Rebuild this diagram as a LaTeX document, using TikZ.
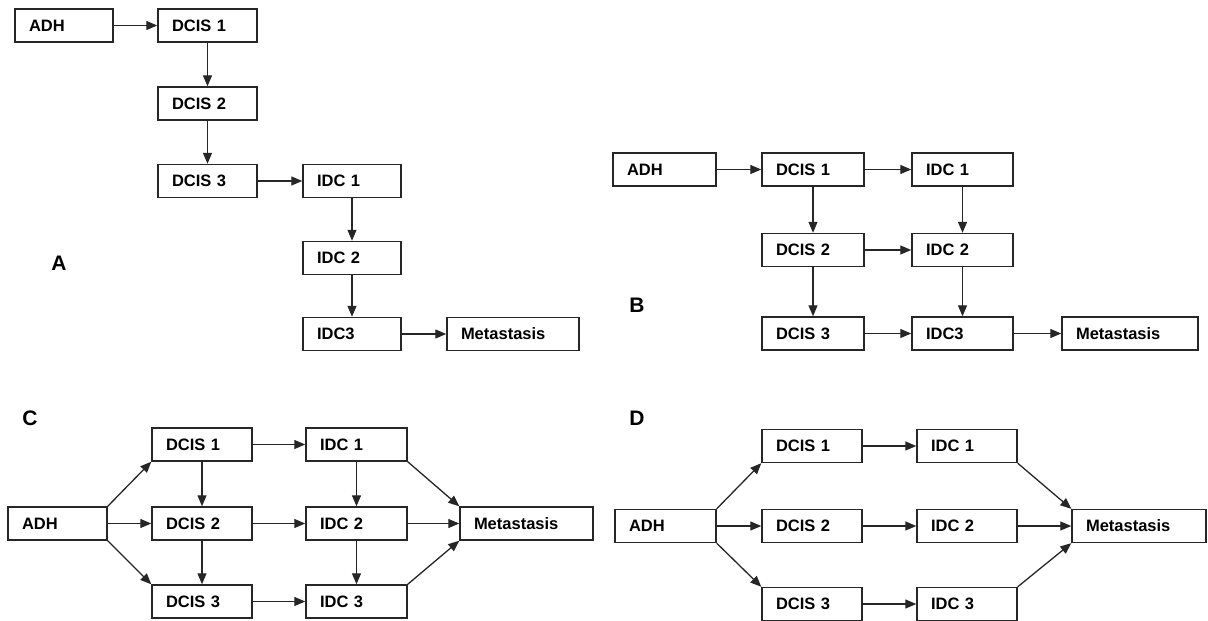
\documentclass[tikz,border=0pt]{standalone}
\usepackage{fontspec}
\setmainfont{Liberation Sans}
\usetikzlibrary{arrows.meta}
\tikzset{
  bx/.style={draw=black!85, line width=1.4pt, fill=white, minimum height=33pt,
    inner xsep=14pt, inner ysep=0pt, align=left,
    font=\fontsize{16.5}{19}\selectfont\bfseries},
  wm/.style={text width=#1},
  arr/.style={draw=black!85, line width=1.3pt, -{Triangle[length=11pt,width=9pt]}},
  lab/.style={font=\fontsize{21}{24}\selectfont\bfseries}
}
\begin{document}
\begin{tikzpicture}[x=1pt,y=-1pt]
\useasboundingbox (0,0) rectangle (1208,621);
% ---------- A ----------
\node[bx, wm=70pt] (aADH) at (64,25.5) {ADH};
\node[bx, wm=71pt] (aD1) at (207.5,25.5) {DCIS 1};
\node[bx, wm=71pt] (aD2) at (207.5,103.5) {DCIS 2};
\node[bx, wm=71pt] (aD3) at (207.5,181) {DCIS 3};
\node[bx, wm=70pt] (aI1) at (352,181) {IDC 1};
\node[bx, wm=70pt] (aI2) at (352,258) {IDC 2};
\node[bx, wm=70pt] (aI3) at (352,334) {IDC3};
\node[bx, wm=104pt] (aM) at (513,334) {Metastasis};
\node[lab] (aL) at (59,263) {A};
\draw[arr] (aADH) -- (aD1);
\draw[arr] (aD1) -- (aD2);
\draw[arr] (aD2) -- (aD3);
\draw[arr] (aD3) -- (aI1);
\draw[arr] (aI1) -- (aI2);
\draw[arr] (aI2) -- (aI3);
\draw[arr] (aI3) -- (aM);
% ---------- B ----------
\node[bx, wm=75pt] (bADH) at (664.5,169.5) {ADH};
\node[bx, wm=74pt] (bD1) at (813,169.5) {DCIS 1};
\node[bx, wm=74pt] (bD2) at (813,250) {DCIS 2};
\node[bx, wm=74pt] (bD3) at (813,333.5) {DCIS 3};
\node[bx, wm=73pt] (bI1) at (962.5,169.5) {IDC 1};
\node[bx, wm=73pt] (bI2) at (962.5,250) {IDC 2};
\node[bx, wm=73pt] (bI3) at (962.5,333.5) {IDC3};
\node[bx, wm=108pt] (bM) at (1130,333.5) {Metastasis};
\node[lab] (bL) at (637,305) {B};
\draw[arr] (bADH) -- (bD1);
\draw[arr] (bD1) -- (bI1);
\draw[arr] (bD1) -- (bD2);
\draw[arr] (bI1) -- (bI2);
\draw[arr] (bD2) -- (bI2);
\draw[arr] (bD2) -- (bD3);
\draw[arr] (bI2) -- (bI3);
\draw[arr] (bD3) -- (bI3);
\draw[arr] (bI3) -- (bM);
% ---------- C ----------
\node[bx, wm=71pt] (cADH) at (57.5,523.5) {ADH};
\node[bx, wm=72pt] (cD1) at (202,444.5) {DCIS 1};
\node[bx, wm=72pt] (cD2) at (202,523.5) {DCIS 2};
\node[bx, wm=72pt] (cD3) at (202,601.5) {DCIS 3};
\node[bx, wm=73pt] (cI1) at (356.5,444.5) {IDC 1};
\node[bx, wm=73pt] (cI2) at (356.5,523.5) {IDC 2};
\node[bx, wm=73pt] (cI3) at (356.5,601.5) {IDC 3};
\node[bx, wm=105pt] (cM) at (526.5,523.5) {Metastasis};
\node[lab] (cL) at (30,418) {C};
\draw[arr] (cADH.north east) -- (cD1.south west);
\draw[arr] (cADH) -- (cD2);
\draw[arr] (cADH.south east) -- (cD3.north west);
\draw[arr] (cD1) -- (cI1);
\draw[arr] (cD2) -- (cI2);
\draw[arr] (cD3) -- (cI3);
\draw[arr] (cD1) -- (cD2);
\draw[arr] (cD2) -- (cD3);
\draw[arr] (cI1) -- (cI2);
\draw[arr] (cI2) -- (cI3);
\draw[arr] (cI1.south east) -- (cM.north west);
\draw[arr] (cI2) -- (cM);
\draw[arr] (cI3.north east) -- (cM.south west);
% ---------- D ----------
\node[bx, wm=73pt] (dADH) at (665.5,526) {ADH};
\node[bx, wm=72pt] (dD1) at (812,446) {DCIS 1};
\node[bx, wm=72pt] (dD2) at (812,526) {DCIS 2};
\node[bx, wm=72pt] (dD3) at (812,604) {DCIS 3};
\node[bx, wm=72pt] (dI1) at (967,446) {IDC 1};
\node[bx, wm=72pt] (dI2) at (967,526) {IDC 2};
\node[bx, wm=72pt] (dI3) at (967,604) {IDC 3};
\node[bx, wm=106pt] (dM) at (1139,526) {Metastasis};
\node[lab] (dL) at (637,418) {D};
\draw[arr] (dADH.north east) -- (dD1.south west);
\draw[arr] (dADH) -- (dD2);
\draw[arr] (dADH.south east) -- (dD3.north west);
\draw[arr] (dD1) -- (dI1);
\draw[arr] (dD2) -- (dI2);
\draw[arr] (dD3) -- (dI3);
\draw[arr] (dI1.south east) -- (dM.north west);
\draw[arr] (dI2) -- (dM);
\draw[arr] (dI3.north east) -- (dM.south west);
\end{tikzpicture}
\end{document}
